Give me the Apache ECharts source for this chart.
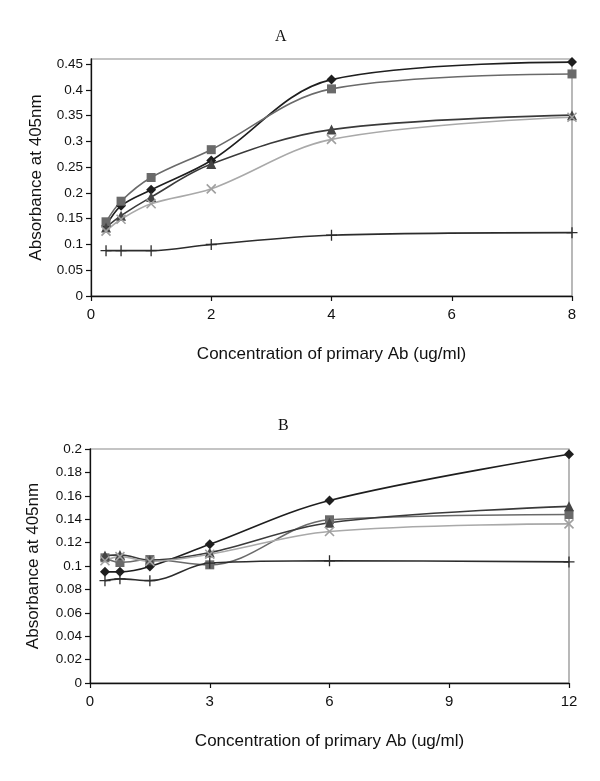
<!DOCTYPE html>
<html>
<head>
<meta charset="utf-8">
<script src="https://cdn.jsdelivr.net/npm/echarts@6/dist/echarts.min.js"></script>
<style>html,body{margin:0;padding:0;background:#fff}#c{width:600px;height:781px}</style>
</head>
<body>
<div id="c"></div>
<script>
// Panel A
var xA = [0.25, 0.5, 1, 2, 4, 8];
var diamondA = [0.136, 0.175, 0.206, 0.263, 0.420, 0.454];
var squareA = [0.144, 0.184, 0.230, 0.284, 0.402, 0.431];
var triangleA = [0.133, 0.156, 0.192, 0.256, 0.323, 0.351];
var crossA = [0.126, 0.149, 0.179, 0.208, 0.304, 0.347];
var plusA = [0.088, 0.088, 0.088, 0.100, 0.118, 0.123];
var xTicksA = [0, 2, 4, 6, 8];
var yTicksA = [0, 0.05, 0.1, 0.15, 0.2, 0.25, 0.3, 0.35, 0.4, 0.45];

// Panel B
var xB = [0.375, 0.75, 1.5, 3, 6, 12];
var diamondB = [0.095, 0.095, 0.0995, 0.1185, 0.156, 0.1955];
var squareB = [0.1070, 0.1030, 0.1055, 0.1010, 0.1395, 0.1440];
var triangleB = [0.1090, 0.1095, 0.1050, 0.1115, 0.1370, 0.1510];
var crossB = [0.1045, 0.1080, 0.1040, 0.1100, 0.1295, 0.1360];
var plusB = [0.0875, 0.0890, 0.0875, 0.1025, 0.1045, 0.1035];
var xTicksB = [0, 3, 6, 9, 12];
var yTicksB = [0, 0.02, 0.04, 0.06, 0.08, 0.1, 0.12, 0.14, 0.16, 0.18, 0.2];

var xTitle = 'Concentration of primary Ab (ug/ml)';
var yTitle = 'Absorbance at 405nm';

function pairs(xs, ys) { return xs.map(function (x, i) { return [x, ys[i]]; }); }

var crossPath = 'path://M0,0L10,10M10,0L0,10';
var plusPath = 'path://M5,0L5,10M0,5L10,5';

var styles = [
  { name: 'diamond', sym: 'diamond', size: 10, line: '#1e1e1e', fill: '#1e1e1e', border: '#1e1e1e', bw: 0 },
  { name: 'square', sym: 'rect', size: 9, line: '#6a6a6a', fill: '#6a6a6a', border: '#6a6a6a', bw: 0 },
  { name: 'triangle', sym: 'triangle', size: 10, line: '#3a3a3a', fill: '#454545', border: '#454545', bw: 0 },
  { name: 'cross', sym: crossPath, size: 9, line: '#a9a9a9', fill: 'rgba(0,0,0,0)', border: '#a0a0a0', bw: 1.6 },
  { name: 'plus', sym: plusPath, size: 11, line: '#2c2c2c', fill: 'rgba(0,0,0,0)', border: '#2c2c2c', bw: 1.3 }
];

function makeSeries(gi, xs, sets) {
  return sets.map(function (ys, k) {
    var s = styles[k];
    return {
      type: 'line', name: s.name, xAxisIndex: gi, yAxisIndex: gi,
      data: pairs(xs, ys), smooth: 0.35, clip: false,
      symbol: s.sym, symbolSize: s.size, showSymbol: true,
      lineStyle: { color: s.line, width: 1.6 },
      itemStyle: { color: s.fill, borderColor: s.border, borderWidth: s.bw },
      emphasis: { disabled: true }, animation: false
    };
  });
}

var ff = 'Liberation Sans, Arial, sans-serif';
var xLabelFont = { fontFamily: ff, fontSize: 15, color: '#111' };
var yLabelFont = { fontFamily: ff, fontSize: 13.5, color: '#111' };
var titleFont = { fontFamily: ff, fontSize: 17, color: '#111' };

function xAxisDef(gi, max, interval, ticks) {
  return {
    type: 'value', gridIndex: gi, min: 0, max: max, interval: interval,
    name: xTitle, nameLocation: 'middle', nameGap: 50,
    nameTextStyle: titleFont,
    axisLine: { show: true, lineStyle: { color: '#111', width: 1.3 } },
    axisTick: { show: true, inside: false, length: 5, lineStyle: { color: '#111', width: 1.2 }, customValues: ticks },
    axisLabel: Object.assign({ margin: 11, customValues: ticks }, xLabelFont),
    splitLine: { show: false }
  };
}
function yAxisDef(gi, max, ticks, gap) {
  return {
    type: 'value', gridIndex: gi, min: 0, max: max,
    name: yTitle, nameLocation: 'middle', nameGap: gap, nameRotate: 90,
    nameTextStyle: titleFont,
    axisLine: { show: true, lineStyle: { color: '#111', width: 1.3 } },
    axisTick: { show: true, inside: false, length: 5, lineStyle: { color: '#111', width: 1.2 }, customValues: ticks },
    axisLabel: Object.assign({ margin: 8, customValues: ticks }, yLabelFont),
    splitLine: { show: false }
  };
}

var serif = 'Liberation Serif, Times New Roman, serif';
var chart = echarts.init(document.getElementById('c'), null, { renderer: 'canvas' });
chart.setOption({
  backgroundColor: '#fff',
  animation: false,
  title: [
    { text: 'A', left: 270, top: 24, textStyle: { fontFamily: serif, fontWeight: 'normal', fontSize: 16, color: '#111' } },
    { text: 'B', left: 273, top: 413, textStyle: { fontFamily: serif, fontWeight: 'normal', fontSize: 16, color: '#111' } }
  ],
  grid: [
    { left: 91, right: 28, top: 59, bottom: 485, show: true, borderColor: '#8a8a8a', borderWidth: 1.2, backgroundColor: 'transparent' },
    { left: 90, right: 31, top: 449, bottom: 98, show: true, borderColor: '#8a8a8a', borderWidth: 1.2, backgroundColor: 'transparent' }
  ],
  xAxis: [ xAxisDef(0, 8, 2, xTicksA), xAxisDef(1, 12, 3, xTicksB) ],
  yAxis: [ yAxisDef(0, 0.46, yTicksA, 46), yAxisDef(1, 0.2, yTicksB, 48) ],
  series: makeSeries(0, xA, [diamondA, squareA, triangleA, crossA, plusA])
    .concat(makeSeries(1, xB, [diamondB, squareB, triangleB, crossB, plusB]))
});
</script>
</body>
</html>
